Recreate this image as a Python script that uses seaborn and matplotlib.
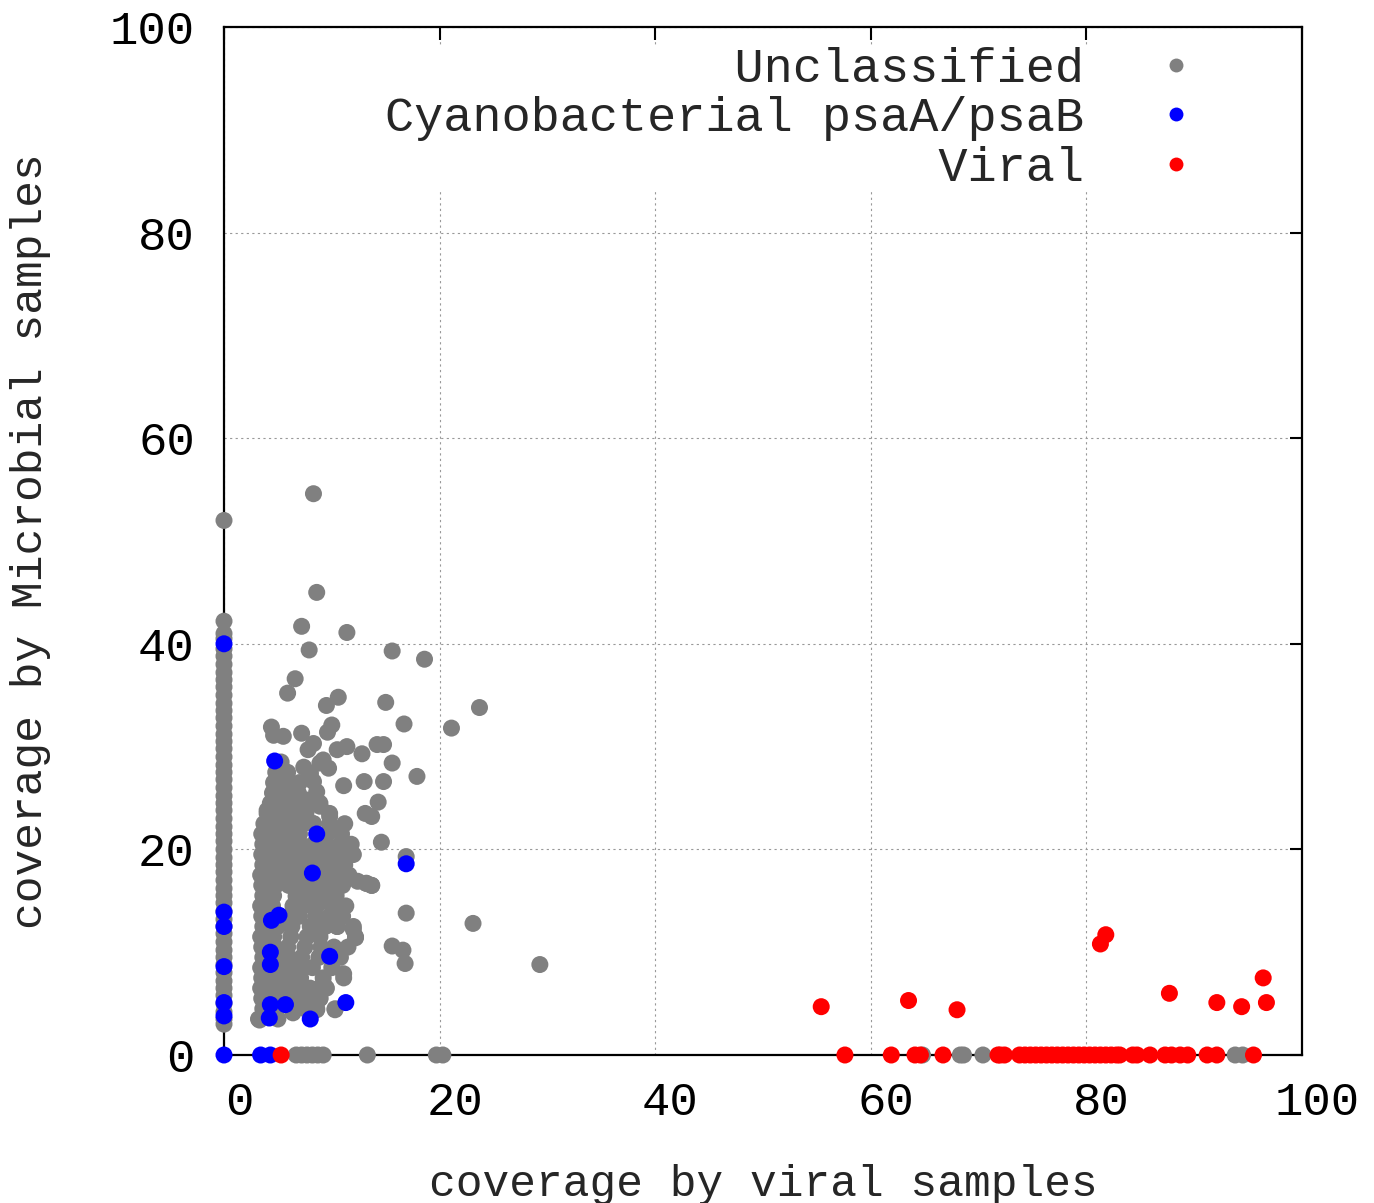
import numpy as np
import pandas as pd
import seaborn as sns
import matplotlib.pyplot as plt
import matplotlib.transforms as mtransforms
from matplotlib.lines import Line2D

# --- datos ---
# Unclassified: columna en x=0
gray_col_y = [52.0, 42.2, 41.0, 40.5, 39.5, 38.8, 38.0, 37.2, 36.5, 35.8, 35.0, 34.2,
              33.5, 32.8, 32.0, 31.2, 30.5, 29.8, 29.0, 28.2, 27.5, 26.8, 26.0, 25.2,
              24.5, 23.8, 23.0, 22.2, 21.5, 20.8, 20.0, 19.2, 18.5, 17.8, 17.0, 16.2,
              15.5, 14.8, 14.0, 13.2, 12.5, 11.8, 11.0, 10.2, 9.5, 8.8, 8.0, 7.2,
              6.5, 5.8, 5.0, 4.2, 3.5, 3.0]

# Unclassified: nube principal
gray_x = [3.2, 5.0,
          3.6, 4.8, 6.3, 7.5, 8.6, 10.3,
          3.5, 4.5, 5.6, 6.7, 8.9, 7.8,
          3.4, 4.4, 5.5, 6.8, 8.0, 9.5,
          3.5, 4.6, 5.8, 7.1, 9.2, 11.1,
          3.4, 4.5, 5.6, 6.9, 8.2, 10.0,
          3.6, 4.8, 6.0, 7.2, 8.8, 10.8,
          3.5, 4.7, 5.9, 7.5, 9.0, 10.2, 11.5,
          3.4, 4.6, 6.2, 7.7, 8.9, 12.2,
          3.6, 5.0, 6.3, 8.0, 9.4, 10.5, 12.0,
          3.5, 6.0, 7.0, 8.5, 9.8, 11.0,
          3.4, 4.5, 6.4, 7.4, 8.6, 10.0, 11.3,
          3.6, 4.6, 6.7, 7.8, 9.1, 10.4,
          3.5, 4.8, 6.0, 7.2, 8.4, 9.7, 11.0, 13.2, 13.7, 12.4,
          3.4, 4.5, 5.6, 6.8, 7.9, 9.2, 10.5, 11.6,
          3.6, 4.8, 6.0, 7.3, 8.6, 9.8, 11.2,
          3.5, 4.6, 5.7, 6.9, 8.0, 9.3, 10.6, 12.0,
          3.6, 4.7, 5.9, 7.1, 8.3, 9.5, 10.8, 11.8,
          3.5, 4.6, 5.8, 7.0, 9.6, 10.9,
          3.7, 4.9, 6.1, 7.4, 8.3, 9.8, 11.2,
          4.0, 5.2, 6.4, 7.6, 9.8, 13.1, 13.7,
          4.3, 5.5, 6.7, 7.7, 8.9, 14.3,
          4.5, 5.7, 6.9, 8.6,
          4.6, 5.8, 7.0, 8.3, 11.1, 13.0, 14.8,
          4.8, 5.9, 8.0, 9.7, 17.9,
          5.3, 9.2, 8.9, 15.6,
          7.4, 8.0, 10.0, 9.6, 4.4, 4.6, 5.5, 7.2, 8.3, 7.8, 11.4, 10.5,
          14.2, 14.8, 12.8, 16.7, 15.0, 9.5, 10.6, 5.9, 6.6, 18.6, 15.6,
          7.9, 11.4, 7.2, 8.6, 8.3, 21.1, 23.7, 23.1, 29.3,
          14.6, 16.9, 15.6, 16.6, 16.8, 12.0, 12.2, 13.2, 13.7, 11.1,
          10.3, 3.3, 9.2, 8.9, 8.6, 6.4, 10.5, 6.7, 16.9, 4.0, 4.6, 7.7, 8.9, 9.8, 8.3,
          6.7, 7.2, 7.7, 8.2, 8.7, 9.2, 13.3, 19.7, 20.3,
          64.8, 68.3, 68.6, 70.4, 93.8, 94.5]
gray_y = [3.5, 3.5,
          4.5, 4.5, 4.5, 4.5, 4.5, 4.5,
          5.5, 5.5, 5.5, 5.5, 5.5, 5.5,
          6.5, 6.5, 6.5, 6.5, 6.5, 6.5,
          7.5, 7.5, 7.5, 7.5, 7.5, 7.5,
          8.5, 8.5, 8.5, 8.5, 8.5, 8.5,
          9.5, 9.5, 9.5, 9.5, 9.5, 9.5,
          10.5, 10.5, 10.5, 10.5, 10.5, 10.5, 10.5,
          11.5, 11.5, 11.5, 11.5, 11.5, 11.5,
          12.5, 12.5, 12.5, 12.5, 12.5, 12.5, 12.5,
          13.5, 13.5, 13.5, 13.5, 13.5, 13.5,
          14.5, 14.5, 14.5, 14.5, 14.5, 14.5, 14.5,
          15.5, 15.5, 15.5, 15.5, 15.5, 15.5,
          16.5, 16.5, 16.5, 16.5, 16.5, 16.5, 16.5, 16.7, 16.5, 16.9,
          17.5, 17.5, 17.5, 17.5, 17.5, 17.5, 17.5, 17.5,
          18.5, 18.5, 18.5, 18.5, 18.5, 18.5, 18.5,
          19.5, 19.5, 19.5, 19.5, 19.5, 19.5, 19.5, 19.5,
          20.5, 20.5, 20.5, 20.5, 20.5, 20.5, 20.5, 20.5,
          21.5, 21.5, 21.5, 21.5, 21.5, 21.5,
          22.5, 22.5, 22.5, 22.5, 22.5, 22.5, 22.5,
          23.5, 23.5, 23.5, 23.5, 23.5, 23.5, 23.2,
          24.5, 24.5, 24.5, 24.5, 24.5, 24.6,
          25.5, 25.5, 25.5, 25.6,
          26.5, 26.5, 26.5, 26.6, 26.2, 26.6, 26.6,
          27.5, 27.5, 27.4, 27.9, 27.1,
          28.5, 28.7, 28.4, 28.4,
          28.0, 27.4, 32.1, 31.4, 31.9, 31.1, 31.0, 31.3, 30.3, 29.7, 30.0, 29.7,
          30.2, 30.2, 29.3, 32.2, 34.3, 34.0, 34.8, 35.2, 36.6, 38.5, 39.3,
          39.4, 41.1, 41.7, 45.0, 54.6, 31.8, 33.8, 12.8, 8.8,
          20.7, 13.8, 10.6, 10.2, 8.9, 12.2, 11.4, 16.7, 16.5, 7.9,
          4.4, 3.4, 7.0, 5.5, 4.4, 4.1, 12.5, 15.4, 19.3, 23.8, 24.8, 24.8, 24.2, 23.2, 22.5,
          0, 0, 0, 0, 0, 0, 0, 0, 0,
          0, 0, 0, 0, 0, 0]

# Cyanobacterial psaA/psaB
blue_x = [0, 0, 0, 0, 0, 0, 0,
          4.7, 8.6, 8.2, 16.9, 4.4, 5.1, 4.3, 4.3, 9.8, 4.3, 5.7, 4.2, 11.3, 8.0, 3.4, 4.3]
blue_y = [40.0, 13.9, 12.5, 8.6, 5.1, 3.8, 0,
          28.6, 21.5, 17.7, 18.6, 13.1, 13.6, 10.0, 8.8, 9.6, 4.9, 4.9, 3.6, 5.1, 3.5, 0, 0]

# Viral
red_x = [5.3, 55.4, 63.5, 68.0, 81.3, 81.8, 87.7, 92.1, 94.4, 96.4, 96.7,
         57.6, 61.9, 64.1, 64.6, 66.7, 71.8, 72.0, 72.4, 73.8, 74.3, 74.8, 75.3,
         75.8, 76.3, 76.8, 77.3, 77.8, 78.3, 78.8, 79.3, 79.8, 80.3, 80.8, 81.3,
         81.8, 82.3, 82.8, 83.1, 84.3, 84.7, 85.9, 87.3, 87.9, 88.7, 89.4, 91.2,
         92.1, 95.5]
red_y = [0, 4.7, 5.3, 4.4, 10.8, 11.7, 6.0, 5.1, 4.7, 7.5, 5.1,
         0, 0, 0, 0, 0, 0, 0, 0, 0, 0, 0, 0,
         0, 0, 0, 0, 0, 0, 0, 0, 0, 0, 0, 0,
         0, 0, 0, 0, 0, 0, 0, 0, 0, 0, 0, 0,
         0, 0]

categorias = ["Unclassified", "Cyanobacterial psaA/psaB", "Viral"]
colores = {"Unclassified": "#808080", "Cyanobacterial psaA/psaB": "#0000ff", "Viral": "#ff0000"}

# armar tabla (orden: gris, azul, rojo -> rojo queda encima)
df = pd.concat([
    pd.DataFrame({"x": [0.0] * len(gray_col_y), "y": gray_col_y, "tipo": "Unclassified"}),
    pd.DataFrame({"x": gray_x, "y": gray_y, "tipo": "Unclassified"}),
    pd.DataFrame({"x": blue_x, "y": blue_y, "tipo": "Cyanobacterial psaA/psaB"}),
    pd.DataFrame({"x": red_x, "y": red_y, "tipo": "Viral"}),
], ignore_index=True)

sns.set_style("white")
plt.rcParams['font.family'] = ['Liberation Mono', 'DejaVu Sans Mono']

fig = plt.figure(figsize=(13.74, 12.03), dpi=100)
ax = fig.add_axes([224 / 1374, 1 - 1055 / 1203, 1078 / 1374, 1028 / 1203])

sns.scatterplot(data=df, x="x", y="y", hue="tipo", palette=colores,
                s=150, linewidth=0, edgecolor="none", legend=False,
                clip_on=False, zorder=3, ax=ax)

ax.set_xlim(0, 100)
ax.set_ylim(0, 100)
ax.set_xticks([0, 20, 40, 60, 80, 100])
ax.set_yticks([0, 20, 40, 60, 80, 100])
ax.set_xlabel("coverage by viral samples", fontsize=32, labelpad=28)
ax.set_ylabel("coverage by Microbial samples", fontsize=32, labelpad=42)

ax.tick_params(direction="in", length=9, width=1.5, top=True, right=True,
               labelsize=34, colors="black")
ax.tick_params(axis="x", pad=19)
ax.tick_params(axis="y", pad=21)
for sp in ax.spines.values():
    sp.set_visible(True)
    sp.set_color("black")
    sp.set_linewidth(1.6)

# rejilla punteada
ax.grid(True, color="#999999", linestyle=(0, (2, 3)), linewidth=0.8)
ax.set_axisbelow(True)

# desplazar etiquetas de x (como en gnuplot)
offset = mtransforms.ScaledTranslation(15 / 100, 0, fig.dpi_scale_trans)
for lbl in ax.get_xticklabels():
    lbl.set_transform(lbl.get_transform() + offset)

# leyenda alineada a la derecha (fuente monoespaciada)
ancho = max(len(c) for c in categorias)
handles = [Line2D([], [], marker="o", linestyle="none", markersize=10,
                  markerfacecolor=colores[c], markeredgewidth=0) for c in categorias]
labels = [c.rjust(ancho) for c in categorias]
leg = ax.legend(handles, labels, loc="upper right",
                bbox_to_anchor=((1191 - 224) / 1078, (1055 - 47) / 1028),
                fontsize=35, markerfirst=False, handlelength=0.6,
                handletextpad=1.6, labelspacing=0.09, borderpad=0,
                borderaxespad=0, frameon=True, fancybox=False,
                facecolor="white", edgecolor="none", framealpha=1)
leg.set_zorder(2)

plt.savefig("out.png", dpi=100)
